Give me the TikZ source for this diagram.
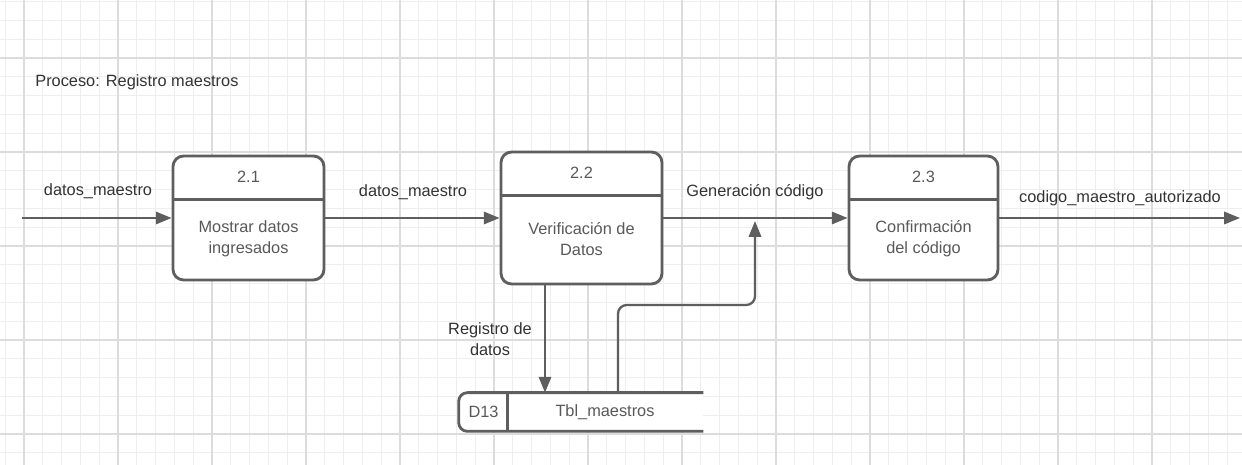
\documentclass[tikz,border=0pt]{standalone}
\usepackage{fontspec}
\setmainfont{Liberation Sans}
\usepackage{xcolor}
\usepackage{tikz}
\usetikzlibrary{arrows.meta, calc}
\definecolor{dfdline}{HTML}{5E5E5E}
\definecolor{dfdtext}{HTML}{333333}
\definecolor{dfdsoft}{HTML}{595959}
\definecolor{gridminor}{HTML}{EEEEEE}
\definecolor{gridmajor}{HTML}{DCDCDC}
\tikzset{
  procbox/.style={
    draw=dfdline, line width=1.6pt, rounded corners=6pt, fill=white
  },
  proctext/.style={
    font=\fontsize{9.3}{11.9}\selectfont, text=dfdsoft, align=center
  },
  flowarrow/.style={
    -{Triangle[length=9pt,width=7pt]}, draw=dfdline, line width=1.3pt
  },
  flowlabel/.style={
    font=\fontsize{9.3}{11.9}\selectfont, text=dfdtext, align=center
  },
  storeline/.style={
    draw=dfdline, line width=1.6pt
  },
}

\begin{document}
\begin{tikzpicture}[x=0.02cm, y=-0.02cm]
  % ── Canvas and grid ──
  \fill[white] (0,0) rectangle (1242,465);
  \useasboundingbox (0,0) rectangle (1242,465);
  \foreach \k in {0,...,65}
    \draw[gridminor, line width=0.6pt] (5.2+\k*18.8, 0) -- (5.2+\k*18.8, 465);
  \foreach \k in {0,...,24}
    \draw[gridminor, line width=0.6pt] (0, 1.6+\k*18.8) -- (1242, 1.6+\k*18.8);
  \foreach \k in {0,...,12}
    \draw[gridmajor, line width=0.6pt] (24+\k*94, 0) -- (24+\k*94, 465);
  \foreach \k in {0,...,4}
    \draw[gridmajor, line width=0.6pt] (0, 58+\k*94) -- (1242, 58+\k*94);

  % ── Title ──
  \node[flowlabel, anchor=west, inner sep=0pt] (title) at (35,82)
    {Proceso: Registro maestros};

  % ── Processes ──
  \node[procbox, minimum width=3.02cm, minimum height=2.48cm] (p21)
    at (248.5,218) {};
  \node[procbox, minimum width=3.22cm, minimum height=2.64cm] (p22)
    at (581.5,218) {};
  \node[procbox, minimum width=2.98cm, minimum height=2.48cm] (p23)
    at (923.5,218) {};

  \draw[storeline] ($(p21.north west)+(0,45)$) -- ($(p21.north east)+(0,45)$);
  \draw[storeline] ($(p22.north west)+(0,45)$) -- ($(p22.north east)+(0,45)$);
  \draw[storeline] ($(p23.north west)+(0,45)$) -- ($(p23.north east)+(0,45)$);

  \node[proctext] (id21) at (248.5,177) {2.1};
  \node[proctext] (id22) at (581.5,173) {2.2};
  \node[proctext] (id23) at (923.5,177) {2.3};

  \node[proctext] (t21) at (248.5,239) {Mostrar datos\\ingresados};
  \node[proctext] (t22) at (581.5,239) {Verificación de\\Datos};
  \node[proctext] (t23) at (923.5,239) {Confirmación\\del código};

  % ── Data store ──
  \node[minimum width=4.88cm, minimum height=0.76cm, inner sep=0pt] (store)
    at (581,412) {};
  \fill[white] (store.north west) rectangle (store.south east);
  \draw[storeline, rounded corners=5pt]
    (store.north east) -- (store.north west) -- (store.south west)
    -- (store.south east);
  \draw[storeline] ($(store.north west)+(49,0)$) -- ($(store.south west)+(49,0)$);
  \node[proctext] (d13) at (483.5,412) {D13};
  \node[proctext] (tbl) at (605,412) {Tbl\_maestros};

  % ── Flows ──
  \coordinate (src) at (22,218);
  \coordinate (sink) at (1240,218);
  \coordinate (gen) at (755,221);

  \draw[flowarrow] (src) -- (p21.west);
  \draw[flowarrow] (p21.east) -- (p22.west);
  \draw[flowarrow] (p22.east) -- (p23.west);
  \draw[flowarrow] (p23.east) -- (sink);
  \draw[flowarrow] ([xshift=-0.73cm]p22.south)
    -- ([xshift=-0.73cm]p22.south |- store.north);
  \draw[flowarrow, rounded corners=5pt] ([xshift=0.74cm]store.north)
    |- ($(gen)+(0,84)$) -- (gen);

  \node[flowlabel] (l1) at (98,191) {datos\_maestro};
  \node[flowlabel] (l2) at (413,192) {datos\_maestro};
  \node[flowlabel] (l3) at (755,192) {Generación código};
  \node[flowlabel] (l4) at (1120,198) {codigo\_maestro\_autorizado};
  \node[flowlabel] (l5) at (490,339) {Registro de\\datos};
\end{tikzpicture}
\end{document}
